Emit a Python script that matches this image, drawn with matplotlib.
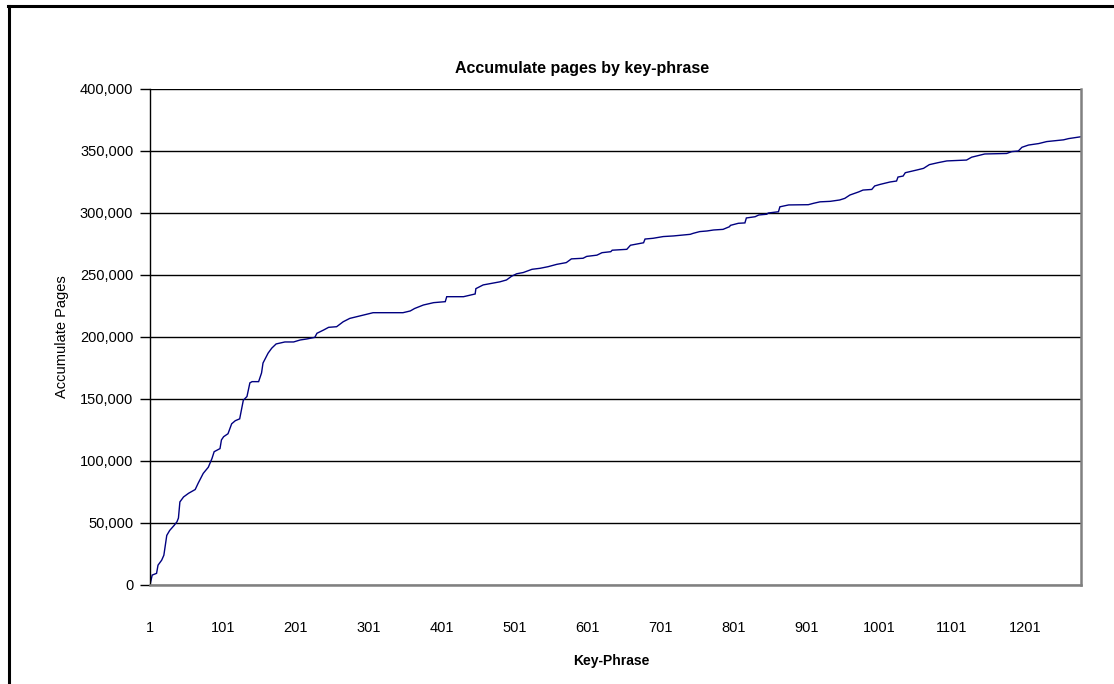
import matplotlib
matplotlib.use("Agg")
import matplotlib.pyplot as plt
from matplotlib.lines import Line2D
from matplotlib.ticker import FuncFormatter

plt.rcParams['font.family'] = ['Liberation Sans', 'DejaVu Sans']

# Key-phrase index (sampled) and accumulated pages (thousands)
key_phrase = [1, 4, 10, 12, 17, 20, 24, 28, 34, 38, 40, 42, 47, 54, 63, 67, 74, 81, 86, 89,
              97, 99, 102, 108, 113, 118, 124, 129, 134, 138, 141, 150, 154, 156, 163, 168,
              174, 186, 198, 207, 216, 227, 230, 239, 246, 257, 266, 275, 285, 298, 307, 348,
              358, 364, 376, 390, 406, 408, 431, 447, 448, 458, 470, 481, 490, 497, 504, 513,
              525, 536, 547, 559, 572, 579, 595, 600, 614, 621, 633, 635, 655, 660, 669, 678,
              680, 691, 705, 719, 742, 746, 755, 765, 774, 787, 796, 797, 808, 817, 819, 831,
              836, 847, 849, 863, 865, 877, 904, 911, 920, 934, 947, 954, 961, 973, 979, 991,
              995, 1002, 1016, 1025, 1027, 1034, 1037, 1043, 1053, 1062, 1070, 1082, 1094,
              1121, 1128, 1135, 1146, 1176, 1183, 1192, 1197, 1206, 1220, 1231, 1254, 1261, 1278]
pages_k = [0, 8, 9.4, 16, 20, 24, 40, 44, 48, 51, 54, 67, 71, 74, 77, 82, 90, 95, 102, 107.5,
           110, 117, 119.6, 122, 130, 132.5, 134, 149, 152, 163, 164, 164, 171, 179, 187, 191,
           194.4, 196, 196, 197.6, 198.4, 199.7, 203, 205.6, 207.8, 208.3, 212.3, 215, 216.4, 218.3, 219.6, 219.6,
           221, 223, 225.8, 227.7, 228.5, 232.5, 232.5, 234.7, 239, 242, 243.3, 244.5, 246, 249, 251, 252,
           254.6, 255.4, 256.7, 258.6, 260, 263, 263.5, 265, 266, 268, 268.8, 270, 270.7, 274, 275, 276,
           279, 279.6, 281, 281.5, 282.8, 283.6, 285, 285.5, 286.3, 286.8, 289, 290, 291.7, 292, 296, 297,
           298.4, 299, 300, 301, 305, 306.5, 306.7, 307.8, 309, 309.4, 310.5, 311.8, 314.5, 317, 318.5, 319,
           321.8, 323, 325, 325.8, 329, 329.8, 332.5, 333.3, 334.7, 336, 339, 340.6, 342,
           342.7, 345, 346, 347.6, 348, 349.5, 350, 353, 354.8, 356, 357.6, 359, 360, 361.5]
pages = [v * 1000 for v in pages_k]

x_ticks = [1, 101, 201, 301, 401, 501, 601, 701, 801, 901, 1001, 1101, 1201]
y_ticks = [0, 50000, 100000, 150000, 200000, 250000, 300000, 350000, 400000]

W, H = 1114, 684
fig = plt.figure(figsize=(W / 100, H / 100), dpi=100)
fig.patch.set_facecolor('white')

left, right, top, bottom = 150, 1081, 89, 585
ax = fig.add_axes([left / W, 1 - bottom / H, (right - left) / W, (bottom - top) / H])

ax.plot(key_phrase, pages, color='#000080', lw=1.0, solid_joinstyle='miter')

ax.set_xlim(1, 1278)
ax.set_ylim(0, 400000)
ax.set_yticks(y_ticks)
ax.yaxis.set_major_formatter(FuncFormatter(lambda v, p: f"{int(v):,}"))
ax.set_xticks(x_ticks)
ax.set_xticklabels([str(t) for t in x_ticks])

ax.grid(axis='y', color='black', lw=1.0)
ax.set_axisbelow(True)

ax.tick_params(axis='y', length=7, width=1, color='black', pad=5, labelsize=10.5)
ax.tick_params(axis='x', length=0, pad=26, labelsize=10.5)

ax.spines['top'].set_visible(False)
ax.spines['left'].set_color('black')
ax.spines['left'].set_linewidth(1.0)
ax.spines['right'].set_color('#808080')
ax.spines['right'].set_linewidth(1.8)
ax.spines['bottom'].set_color('#808080')
ax.spines['bottom'].set_linewidth(1.8)

fig.text(582 / W, 1 - 68 / H, 'Accumulate pages by key-phrase', ha='center', va='center',
         fontsize=11.5, fontweight='bold')
fig.text(611 / W, 1 - 661 / H, 'Key-Phrase', ha='center', va='center',
         fontsize=10, fontweight='bold')
fig.text(62 / W, 1 - 337 / H, 'Accumulate Pages', ha='center', va='center',
         fontsize=10.5, rotation=90)

# outer frame (top and left edges visible)
fig.add_artist(Line2D([9 / W, 9 / W], [0, 1 - 6 / H], transform=fig.transFigure, color='black', lw=2.2))
fig.add_artist(Line2D([8 / W, 1], [1 - 6 / H, 1 - 6 / H], transform=fig.transFigure, color='black', lw=2.2))

fig.savefig('out.png', dpi=100, facecolor='white')
